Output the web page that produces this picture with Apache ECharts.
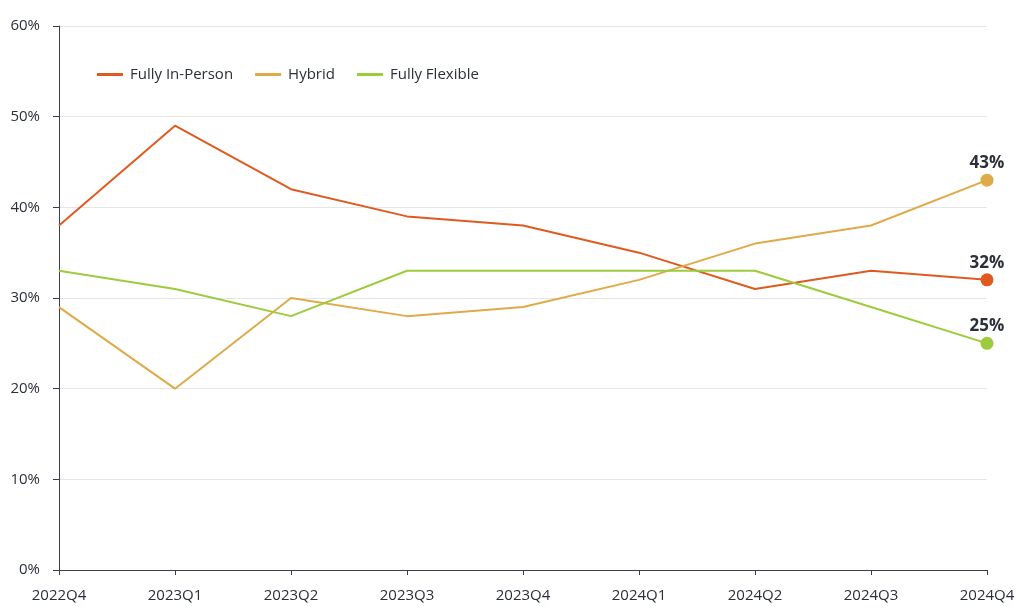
<!DOCTYPE html>
<html><head><meta charset="utf-8">
<script src="https://cdn.jsdelivr.net/npm/echarts@6/dist/echarts.min.js"></script>
<style>html,body{margin:0;padding:0;background:#fff}#c{width:1024px;height:610px}</style>
</head><body><div id="c"></div>
<script>
const categories = ['2022Q4','2023Q1','2023Q2','2023Q3','2023Q4','2024Q1','2024Q2','2024Q3','2024Q4'];
const inPerson = [38, 49, 42, 39, 38, 35, 31, 33, 32];
const hybrid = [29, 20, 30, 28, 29, 32, 36, 38, 43];
const flexible = [33, 31, 28, 33, 33, 33, 33, 29, 25];
const names = ['Fully In-Person','Hybrid','Fully Flexible'];
const colors = ['#e05a20','#dfaa48','#9dcb3c'];
const font = 'Open Sans';
function mk(name, data, color){
  return {
    name, type:'line', color, smooth:false,
    lineStyle:{width:2,color},
    symbol:'circle',
    showSymbol:true,
    itemStyle:{color},
    emphasis:{disabled:true},
    data: data.map((v,i)=> i===data.length-1 ? {value:v, symbolSize:13,
      label:{show:true,position:'top',distance:2,formatter:v+'%',fontFamily:font,fontWeight:'bold',fontSize:17,color:'#2b2f3a'}}
      : {value:v, symbolSize:0})
  };
}
const chart = echarts.init(document.getElementById('c'));
chart.setOption({
  animation:false,
  textStyle:{fontFamily:font},
  grid:{left:59,right:37,top:26,bottom:40,containLabel:false},
  legend:{left:92,top:62,itemWidth:26,itemHeight:3,itemGap:22,icon:'rect',
    textStyle:{fontFamily:font,fontSize:15,color:'#2b2f3a',padding:[0,0,0,2]},data:names},
  xAxis:{type:'category',data:categories,boundaryGap:false,
    axisLine:{lineStyle:{color:'#3a3f4b',width:1}},
    axisTick:{show:true,length:5,lineStyle:{color:'#3a3f4b'}},
    axisLabel:{fontFamily:font,fontSize:15,color:'#2b2f3a',margin:18},
    splitLine:{show:false}},
  yAxis:{type:'value',min:0,max:60,interval:10,
    axisLine:{show:true,lineStyle:{color:'#3a3f4b',width:1}},
    axisTick:{show:true,length:6,lineStyle:{color:'#3a3f4b'}},
    axisLabel:{fontFamily:font,fontSize:15,color:'#2b2f3a',margin:19,formatter:'{value}%'},
    splitLine:{show:true,lineStyle:{color:'#e6e6e6',width:1}}},
  series:[mk(names[0],inPerson,colors[0]),mk(names[1],hybrid,colors[1]),mk(names[2],flexible,colors[2])]
});
</script></body></html>
